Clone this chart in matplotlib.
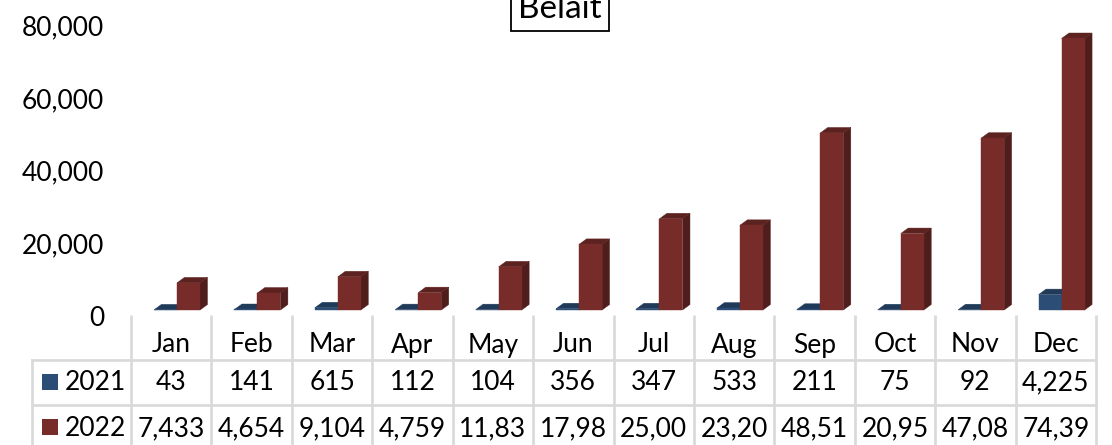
import numpy as np
import matplotlib
matplotlib.use('Agg')
import matplotlib.pyplot as plt
from matplotlib.patches import Polygon, Rectangle

plt.rcParams['font.family'] = ['Lato', 'DejaVu Sans']

months = ['Jan', 'Feb', 'Mar', 'Apr', 'May', 'Jun', 'Jul', 'Aug', 'Sep', 'Oct', 'Nov', 'Dec']
vals_2021 = [43, 141, 615, 112, 104, 356, 347, 533, 211, 75, 92, 4225]
vals_2022 = [7433, 4654, 9104, 4759, 11830, 17980, 25000, 23200, 48510, 20950, 47080, 74390]
labels_2021 = ['43', '141', '615', '112', '104', '356', '347', '533', '211', '75', '92', '4,225']
labels_2022 = ['7,433', '4,654', '9,104', '4,759', '11,83', '17,98', '25,00', '23,20',
               '48,51', '20,95', '47,08', '74,39']
yticks = [0, 20000, 40000, 60000, 80000]

W, H = 1112, 445
FS = 19
GRID = '#d9d9d9'
DX = 0.093
DY = 1500
BAR_W = 0.286


# Column with a top and a side face to fake the 3D look
def draw_bar(ax, x, v, front, side, top, z):
    ax.add_patch(Polygon([(x + BAR_W, 0), (x + BAR_W + DX, DY), (x + BAR_W + DX, v + DY), (x + BAR_W, v)],
                         fc=side, ec=side, lw=0.3, zorder=z, clip_on=False))
    ax.add_patch(Polygon([(x, v), (x + DX, v + DY), (x + BAR_W + DX, v + DY), (x + BAR_W, v)],
                         fc=top, ec=top, lw=0.3, zorder=z, clip_on=False))
    ax.add_patch(Rectangle((x, 0), BAR_W, v, fc=front, ec=front, lw=0.3, zorder=z, clip_on=False))


fig = plt.figure(figsize=(W / 100, H / 100), dpi=100)

# pixel overlay for the data table
tab = fig.add_axes([0, 0, 1, 1])
tab.set_xlim(0, W)
tab.set_ylim(H, 0)
tab.axis('off')

x0, cw = 131, 965 / 12
for i in range(13):
    tab.plot([x0 + i * cw] * 2, [315, H], color=GRID, lw=1.9, solid_capstyle='butt')
tab.plot([32, 32], [360, H], color=GRID, lw=1.9)
tab.plot([32, x0 + 12 * cw], [360, 360], color=GRID, lw=1.9)
tab.plot([32, x0 + 12 * cw], [405, 405], color=GRID, lw=1.9)
for i in range(12):
    cx = x0 + (i + 0.5) * cw
    tab.text(cx, 345, months[i], ha='center', va='center', fontsize=FS, color='black')
    tab.text(cx, 383, labels_2021[i], ha='center', va='center', fontsize=FS, color='black')
    tab.text(cx, 429, labels_2022[i], ha='center', va='center', fontsize=FS, color='black')
tab.add_patch(Rectangle((42, 374), 16, 16, fc='#2c4d75', ec='none'))
tab.add_patch(Rectangle((42, 419), 16, 16, fc='#772c2a', ec='none'))
tab.text(65, 383, '2021', ha='left', va='center', fontsize=FS, color='black')
tab.text(65, 429, '2022', ha='left', va='center', fontsize=FS, color='black')

for v in yticks:
    tab.text(104, 318 - v * 290 / 80000, f'{v:,}', ha='right', va='center', fontsize=FS, color='black')

# title box runs off the top edge
tab.add_patch(Rectangle((510.5, -10), 98, 41, fc='white', ec='black', lw=1.3))
tab.text(560, 9, 'Belait', ha='center', va='center', fontsize=24, color='black')

# bars
ax = fig.add_axes([x0 / W, (H - 310) / H, 965 / W, 292 / H])
ax.set_xlim(0, 12)
ax.set_ylim(0, 80000)
ax.axis('off')
for i in range(12):
    draw_bar(ax, i + BAR_W, vals_2021[i], '#2c4d75', '#1f3654', '#203a5a', 2)
    draw_bar(ax, i + 2 * BAR_W, vals_2022[i], '#772c2a', '#4f1d1c', '#5c2220', 3)

fig.savefig('out.png', dpi=100)
